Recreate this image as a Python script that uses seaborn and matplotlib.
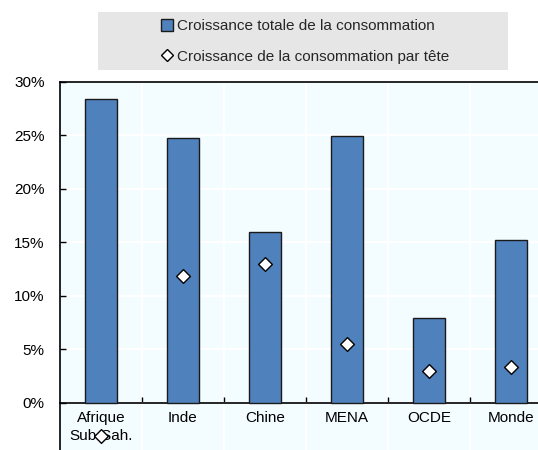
import numpy as np
import pandas as pd
import matplotlib
matplotlib.use("Agg")
import matplotlib.pyplot as plt
import seaborn as sns
from matplotlib.patches import Rectangle, Patch
from matplotlib.lines import Line2D
from matplotlib.ticker import FuncFormatter

# values (%)
regions = ["Afrique\nSub-Sah.", "Inde", "Chine", "MENA", "OCDE", "Monde"]
total_growth = [28.4, 24.7, 16.0, 24.9, 7.9, 15.2]
per_capita_growth = [-3.1, 11.8, 13.0, 5.5, 3.0, 3.3]
y_ticks = [-5, 0, 5, 10, 15, 20, 25, 30]

sns.set_theme(style="white")
plt.rcParams['font.family'] = ['Liberation Sans Narrow', 'Liberation Sans', 'DejaVu Sans']
plt.rcParams['font.size'] = 11

df = pd.DataFrame({"region": regions, "total": total_growth, "tete": per_capita_growth})

fig = plt.figure(figsize=(5.38, 4.5), dpi=100)
# plot area runs past the right and bottom edges like the cropped original
ax = fig.add_axes([0.1115, -0.0138, 0.9145, 0.8322])
ax.set_facecolor('#F3FCFF')

sns.barplot(data=df, x="region", y="total", color="#4F81BD", edgecolor="#1A1A1A",
            linewidth=1, width=0.4, saturation=1, ax=ax, zorder=3)
sns.stripplot(data=df, x="region", y="tete", marker="D", color="white", edgecolor="black",
              linewidth=1, size=7, jitter=False, ax=ax, zorder=4)

ax.set_xlim(-0.5, 5.5)
ax.set_ylim(-5, 30)
ax.set_yticks(y_ticks)
ax.yaxis.set_major_formatter(FuncFormatter(lambda v, p: "%d%%" % v))
ax.set_xlabel("")
ax.set_ylabel("")

ax.spines['bottom'].set_position(('data', 0))
for s in ax.spines.values():
    s.set_color('black')
    s.set_linewidth(1.2)

ax.set_xticks(np.arange(0.5, 5.5, 1), minor=True)
ax.set_axisbelow(True)
ax.yaxis.grid(True, color='white', lw=1.5)
ax.xaxis.grid(True, which='minor', color='white', lw=1.5)
ax.tick_params(axis='x', which='major', length=0, pad=6, labelsize=11, colors='black')
ax.tick_params(axis='x', which='minor', direction='in', length=4, width=1, color='black', bottom=True)
ax.tick_params(axis='y', direction='in', length=4, width=1, color='black', pad=11, labelsize=11,
               left=True, labelcolor='black')
for t in ax.get_xticklabels():
    t.set_linespacing(1.35)

# legend on a grey band
fig.patches.append(Rectangle((0.182, 0.8444), 0.762, 0.129, transform=fig.transFigure,
                             facecolor='#E6E6E6', edgecolor='none', zorder=0))
handles = [Patch(facecolor="#4F81BD", edgecolor="#1A1A1A", linewidth=1),
           Line2D([], [], marker='D', color='none', markerfacecolor='white',
                  markeredgecolor='black', markersize=6)]
labels = ["Croissance totale de la consommation", "Croissance de la consommation par tête"]
fig.legend(handles, labels, loc='center', bbox_to_anchor=(0.567, 0.908), frameon=False,
           fontsize=11, handlelength=0.8, handleheight=0.8, handletextpad=0.3, labelspacing=1.1)

fig.savefig("out.png", dpi=100)
